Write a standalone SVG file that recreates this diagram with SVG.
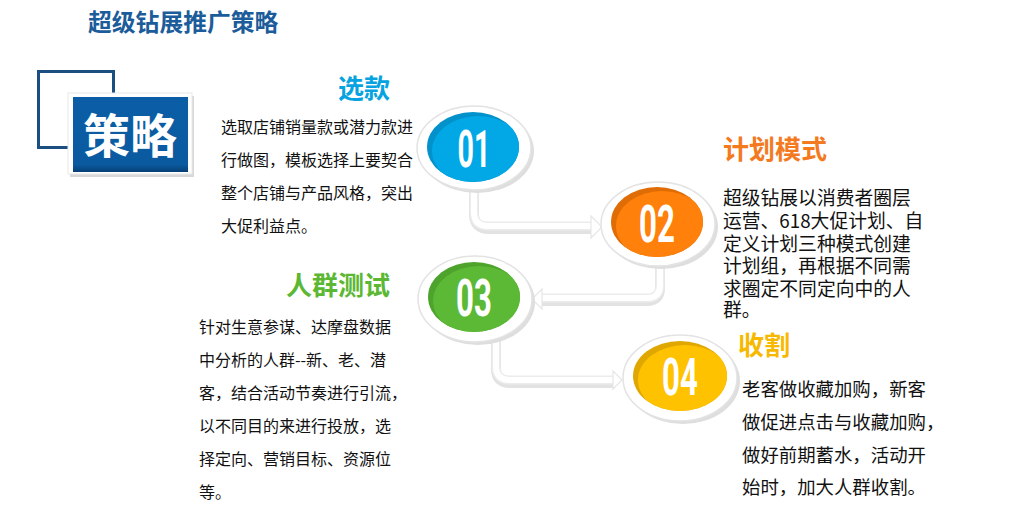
<svg xmlns="http://www.w3.org/2000/svg" width="1021" height="512" viewBox="0 0 1021 512">
<style>
.cjk{font-family:"Noto Sans CJK SC","Noto Sans",sans-serif}
.title{font-weight:bold;font-size:23.8px;fill:#1c5c9a}
.head{font-weight:bold;font-size:26px}
.p16{font-size:16px;fill:#111}
.p19{font-size:18.8px;fill:#111}
.p18{font-size:18.4px;fill:#111}
.num{font-family:Roboto,"DejaVu Sans",sans-serif;font-weight:bold;font-size:52px;fill:#fff;text-anchor:middle}
.outer{fill:#fff;stroke:#e3e3e3;stroke-width:1.5}
.shadow{fill:#dedede}
.cshadow{fill:none;stroke:#e2e2e2;stroke-width:10;stroke-linejoin:round}
.cedge{fill:none;stroke:#ececec;stroke-width:9;stroke-linejoin:round}
.cbody{fill:none;stroke:#fff;stroke-width:6;stroke-linejoin:round}
.ahead{fill:#fff;stroke:#e6e6e6;stroke-width:1.2}
</style>
<defs>
<clipPath id="c1"><ellipse cx="473" cy="147" rx="46" ry="35"/></clipPath>
<clipPath id="c2"><ellipse cx="657" cy="222" rx="46" ry="35"/></clipPath>
<clipPath id="c3"><ellipse cx="474" cy="297" rx="46" ry="35"/></clipPath>
<clipPath id="c4"><ellipse cx="680" cy="376" rx="47" ry="35"/></clipPath>
<linearGradient id="boxg" x1="0" y1="0" x2="0" y2="1">
<stop offset="0" stop-color="#0b5ea6"/><stop offset="0.9" stop-color="#0a5aa0"/><stop offset="1" stop-color="#073f75"/>
</linearGradient>
</defs>

<text class="cjk title" x="88" y="31">超级钻展推广策略</text>

<g id="strategy">
<rect x="38.5" y="71.5" width="75" height="76" fill="none" stroke="#1b4f82" stroke-width="3"/>
<rect x="70" y="96" width="124" height="81" fill="#d8d8d8"/>
<rect x="68" y="93" width="124" height="81" fill="#fff" stroke="#e8e8e8"/>
<rect x="73" y="97" width="115" height="75" fill="url(#boxg)"/>
<text class="cjk" x="130" y="153" font-size="47" font-weight="bold" fill="#fff" text-anchor="middle">策略</text>
</g>

<g id="connectors">
<path class="cshadow" d="M474 190 V214 Q474 229 489 229 H594" />
<path class="cedge" d="M474 188 V212 Q474 226 488 226 H594" />
<path class="cbody" d="M474 188 V212 Q474 226 488 226 H594" />
<polygon class="ahead" points="591,216 602,227 591,238"/>

<path class="cshadow" d="M660 266 V288 Q660 301 647 301 H539" />
<path class="cedge" d="M660 264 V285 Q660 298 647 298 H539" />
<path class="cbody" d="M660 264 V285 Q660 298 647 298 H539" />
<polygon class="ahead" points="542,289 532,299 542,309"/>

<path class="cshadow" d="M496 340 V369 Q496 383 510 383 H615" />
<path class="cedge" d="M496 338 V366 Q496 380 510 380 H615" />
<path class="cbody" d="M496 338 V366 Q496 380 510 380 H615" />
<polygon class="ahead" points="613,371 622,380 613,389"/>
</g>

<g id="node01">
<ellipse class="shadow" cx="477" cy="151" rx="57" ry="42"/>
<ellipse class="outer" cx="474" cy="148" rx="57" ry="42"/>
<ellipse cx="473" cy="147" rx="46" ry="35" fill="#0391cc"/>
<ellipse cx="478" cy="151" rx="46" ry="35" fill="#02a8e6" clip-path="url(#c1)"/>
<text class="num" transform="translate(474 167) scale(0.55 1)">01</text>
</g>

<g id="node02">
<ellipse class="shadow" cx="661" cy="227" rx="57" ry="42"/>
<ellipse class="outer" cx="658" cy="224" rx="57" ry="42"/>
<ellipse cx="657" cy="222" rx="46" ry="35" fill="#e06c05"/>
<ellipse cx="662" cy="226" rx="46" ry="35" fill="#ff800a" clip-path="url(#c2)"/>
<text class="num" transform="translate(657 242) scale(0.6 1)">02</text>
</g>

<g id="node03">
<ellipse class="shadow" cx="478" cy="302" rx="57" ry="43"/>
<ellipse class="outer" cx="475" cy="299" rx="57" ry="43"/>
<ellipse cx="474" cy="297" rx="46" ry="35" fill="#4ea32c"/>
<ellipse cx="479" cy="301" rx="46" ry="35" fill="#5bb935" clip-path="url(#c3)"/>
<text class="num" transform="translate(474 316) scale(0.6 1)">03</text>
</g>

<g id="node04">
<ellipse class="shadow" cx="683" cy="381" rx="57" ry="43"/>
<ellipse class="outer" cx="680" cy="378" rx="57" ry="43"/>
<ellipse cx="680" cy="376" rx="47" ry="35" fill="#dfa700"/>
<ellipse cx="685" cy="380" rx="47" ry="35" fill="#ffc200" clip-path="url(#c4)"/>
<text class="num" transform="translate(680 395) scale(0.6 1)">04</text>
</g>

<g id="text01">
<text class="cjk head" x="338" y="98" fill="#07a3e0">选款</text>
<text class="cjk p16">
<tspan x="221" y="133">选取店铺销量款或潜力款进</tspan>
<tspan x="221" y="166">行做图，模板选择上要契合</tspan>
<tspan x="221" y="199">整个店铺与产品风格，突出</tspan>
<tspan x="221" y="232">大促利益点。</tspan>
</text>
</g>

<g id="text02">
<text class="cjk head" x="723" y="159" fill="#f47a1f">计划模式</text>
<text class="cjk p19">
<tspan x="723" y="205">超级钻展以消费者圈层</tspan>
<tspan x="723" y="228">运营、618大促计划、自</tspan>
<tspan x="723" y="251">定义计划三种模式创建</tspan>
<tspan x="723" y="273">计划组，再根据不同需</tspan>
<tspan x="723" y="296">求圈定不同定向中的人</tspan>
<tspan x="723" y="317">群。</tspan>
</text>
</g>

<g id="text03">
<text class="cjk head" x="286" y="295" fill="#5cb733">人群测试</text>
<text class="cjk p16">
<tspan x="199" y="333">针对生意参谋、达摩盘数据</tspan>
<tspan x="199" y="366">中分析的人群--新、老、潜</tspan>
<tspan x="199" y="399">客，结合活动节奏进行引流，</tspan>
<tspan x="199" y="432">以不同目的来进行投放，选</tspan>
<tspan x="199" y="465">择定向、营销目标、资源位</tspan>
<tspan x="199" y="498">等。</tspan>
</text>
</g>

<g id="text04">
<text class="cjk head" x="738" y="355" fill="#f7b900">收割</text>
<text class="cjk p18">
<tspan x="742" y="396">老客做收藏加购，新客</tspan>
<tspan x="742" y="429">做促进点击与收藏加购，</tspan>
<tspan x="742" y="462">做好前期蓄水，活动开</tspan>
<tspan x="742" y="494">始时，加大人群收割。</tspan>
</text>
</g>
</svg>
